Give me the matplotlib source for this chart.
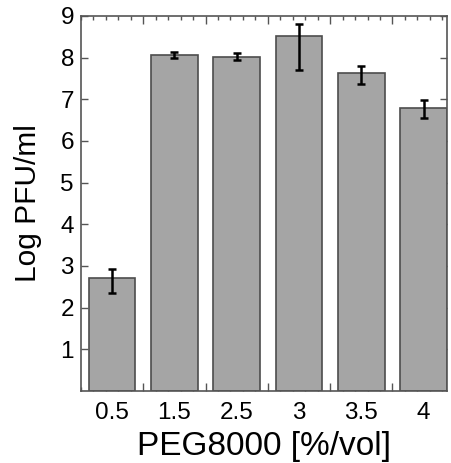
import numpy as np
import matplotlib
matplotlib.use("Agg")
import matplotlib.pyplot as plt
from matplotlib.ticker import FixedLocator

plt.rcParams['font.family'] = ['Liberation Sans', 'DejaVu Sans']

peg_labels = ["0.5", "1.5", "2.5", "3", "3.5", "4"]
log_pfu = [2.70, 8.06, 8.02, 8.52, 7.62, 6.80]
err_low = [0.36, 0.08, 0.08, 0.82, 0.25, 0.26]
err_high = [0.22, 0.08, 0.08, 0.28, 0.18, 0.19]

x = np.arange(len(peg_labels))

fig = plt.figure(figsize=(4.52, 4.63), dpi=100)
ax = fig.add_axes([0.179, 0.1555, 0.81, 0.81])

ax.bar(x, log_pfu, width=0.75, color="#a5a5a5", edgecolor="#4d4d4d", linewidth=1.2, zorder=2)
ax.errorbar(x, log_pfu, yerr=[err_low, err_high], fmt="none", ecolor="black",
            elinewidth=1.8, capsize=3, capthick=1.8, zorder=3)

ax.set_xlim(-0.5, 5.375)
ax.set_ylim(0, 9)
ax.set_yticks(range(1, 10))
ax.tick_params(axis="y", which="major", direction="in", length=5, width=1, color="#555555",
               right=True, labelsize=17.5, pad=5)

# boundary ticks (major) and small ticks (minor) on the x axis, no labels
bounds = np.arange(-0.5, 5.5, 1.0)
ax.xaxis.set_major_locator(FixedLocator(bounds[1:]))
ax.xaxis.set_minor_locator(FixedLocator(np.arange(-0.5, 5.4, 0.2)))
ax.tick_params(axis="x", which="major", direction="in", length=6, width=1, color="#555555",
               top=True, labelbottom=False)
ax.tick_params(axis="x", which="minor", direction="in", length=3, width=1, color="#555555",
               top=True)

# category labels at bar centers
sec = ax.secondary_xaxis("bottom")
sec.set_xticks(x)
sec.set_xticklabels(peg_labels)
sec.tick_params(length=0, labelsize=17.5, pad=8)
sec.spines["bottom"].set_visible(False)

for s in ax.spines.values():
    s.set_color("#555555")
    s.set_linewidth(1.2)

sec.set_xlabel("PEG8000 [%/vol]", fontsize=24, labelpad=5)
ax.set_ylabel("Log PFU/ml", fontsize=21.5, labelpad=13)

fig.savefig("out.png", dpi=100)
